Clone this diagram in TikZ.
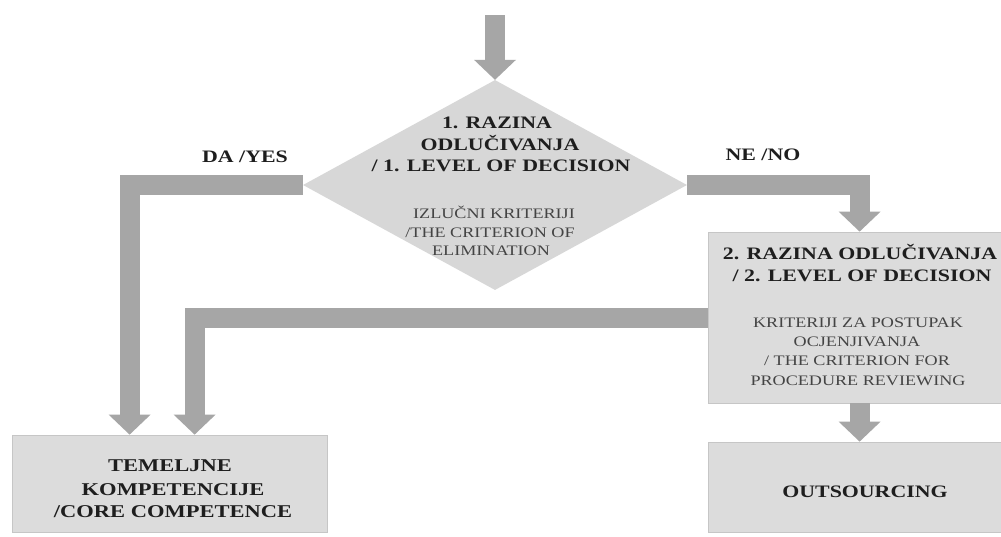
\documentclass[tikz,border=0pt]{standalone}
\usepackage{fontspec}
\setmainfont{Liberation Serif}[FakeStretch=1.25]
\usetikzlibrary{shapes.geometric,arrows.meta,calc}
\definecolor{arrowc}{HTML}{A6A6A6}
\definecolor{boxc}{HTML}{DCDCDC}
\definecolor{diac}{HTML}{D7D7D7}
\definecolor{edgec}{HTML}{C6C6C6}
\definecolor{txtb}{HTML}{1E1E1E}
\definecolor{txtn}{HTML}{444444}
\begin{document}
\begin{tikzpicture}[x=1pt,y=-1pt,
  box/.style={rectangle, fill=boxc, draw=edgec, line width=0.8pt, inner sep=0pt},
  bt/.style={font=\fontsize{17.5}{20}\selectfont\bfseries, text=txtb, inner sep=0pt, anchor=base},
  bbt/.style={font=\fontsize{18}{20}\selectfont\bfseries, text=txtb, inner sep=0pt, anchor=base},
  nt/.style={font=\fontsize{14.5}{18}\selectfont, text=txtn, inner sep=0pt, anchor=base},
  fat/.style={draw=arrowc, line width=20pt, line join=miter,
    -{Triangle[width=42pt,length=20pt,line width=0pt]}}]
\clip (0,0) rectangle (1001,536);
\fill[white] (0,0) rectangle (1001,536);
% shapes
\node[diamond, fill=diac, minimum width=384pt, minimum height=210pt, inner sep=0pt] (d) at (495,185) {};
\node[box, minimum width=315pt, minimum height=97pt] (b1) at (169.5,483.5) {};
\node[box, minimum width=312pt, minimum height=171pt] (b2) at (864,317.5) {};
\node[box, minimum width=312pt, minimum height=90pt] (b3) at (864,487) {};
\coordinate (top) at (495,15);
% connectors
\draw[fat] (top) -- (d.north);
\draw[fat] (d.west) -| ($(b1.north west)+(118,0)$);
\draw[fat] (b2.west) -| ($(b1.north west)+(183,0)$);
\draw[fat] (d.east) -| ($(b2.north west)+(152,0)$);
\draw[fat] ($(b2.south west)+(152,0)$) -- ($(b3.north west)+(152,0)$);
% labels
\node[bt] (yes) at (245,162) {DA /YES};
\node[bt] (no) at (763,160) {NE /NO};
% diamond text
\node[bt] (d1) at (497,128) {1. RAZINA};
\node[bt] (d2) at (500,150) {ODLUČIVANJA};
\node[bt] (d3) at (501,171) {/ 1. LEVEL OF DECISION};
\node[nt] (d4) at (494,218) {IZLUČNI KRITERIJI};
\node[nt] (d5) at (490,237) {/THE CRITERION OF};
\node[nt] (d6) at (491,255) {ELIMINATION};
% box 2 text
\node[bt] (e1) at (860,259) {2. RAZINA ODLUČIVANJA};
\node[bt] (e2) at (862,281) {/ 2. LEVEL OF DECISION};
\node[nt] (e3) at (858,327) {KRITERIJI ZA POSTUPAK};
\node[nt] (e4) at (857,346) {OCJENJIVANJA};
\node[nt] (e5) at (857,365) {/ THE CRITERION FOR};
\node[nt] (e6) at (858,385) {PROCEDURE REVIEWING};
% box 1 text
\node[bbt] (f1) at (170,471) {TEMELJNE};
\node[bbt] (f2) at (173,495) {KOMPETENCIJE};
\node[bbt] (f3) at (173,517) {/CORE COMPETENCE};
% box 3 text
\node[bt] (g1) at (865,497) {OUTSOURCING};
\end{tikzpicture}
\end{document}
